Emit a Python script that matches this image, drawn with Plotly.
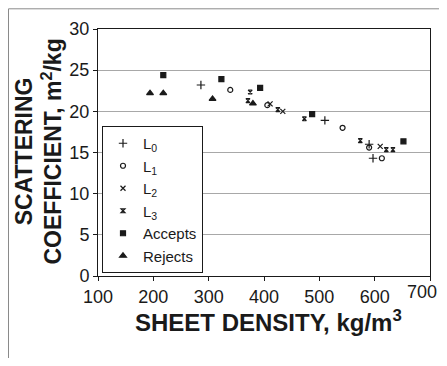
import plotly.graph_objects as go

# Data (sheet density kg/m3, scattering coefficient m2/kg)
l0_x = [286, 510, 590, 597]
l0_y = [23.2, 18.9, 16.0, 14.3]
l1_x = [339, 406, 542, 590, 613]
l1_y = [22.6, 20.75, 18.0, 15.6, 14.3]
l2_x = [411, 434, 610]
l2_y = [20.9, 20.0, 15.75]
l3_x = [375, 371, 425, 473, 574, 621, 633]
l3_y = [22.35, 21.3, 20.2, 19.1, 16.45, 15.35, 15.35]
acc_x = [218, 323, 393, 487, 652]
acc_y = [24.4, 23.9, 22.85, 19.65, 16.35]
rej_x = [194, 218, 307, 380]
rej_y = [22.2, 22.2, 21.5, 20.95]

x_ticks = [100, 200, 300, 400, 500, 600, 700]
y_ticks = [0, 5, 10, 15, 20, 25, 30]

series = [
    ("L<sub>0</sub>", l0_x, l0_y, "cross-thin-open", 6),
    ("L<sub>1</sub>", l1_x, l1_y, "circle-open", 5),
    ("L<sub>2</sub>", l2_x, l2_y, "x-thin-open", 5),
    ("L<sub>3</sub>", l3_x, l3_y, "hourglass-open", 4),
    ("Accepts", acc_x, acc_y, "square", 5),
    ("Rejects", rej_x, rej_y, "triangle-up", 6),
]

FONT = "Liberation Sans, Arial, Helvetica, sans-serif"
ink = "#1a1a1a"

fig = go.Figure()
for name, xs, ys, sym, sz in series:
    fig.add_trace(go.Scatter(
        x=xs, y=ys, mode="markers", name=name,
        marker=dict(symbol=sym, size=sz, color=ink,
                    line=dict(color=ink, width=1.2)),
    ))

# page body keeps its 8px margin: the figure fits inside the window
OFF = 8
W, H = 431, 350
L, R, T, B = 90, 9, 21, 82
pw, ph = W - L - R, H - T - B

def px_x(p):
    return (p - OFF - L) / pw

def px_y(p):
    return (H - B - (p - OFF)) / ph

# last x tick label would be cut at the figure edge: draw it as a note instead
x_ticktext = [str(v) for v in x_ticks[:-1]] + [""]

frame = dict(color="#8a8a8a", width=1)

fig.update_layout(
    width=W, height=H,
    margin=dict(l=L, r=R, t=T, b=B, pad=0),
    paper_bgcolor="white", plot_bgcolor="white",
    font=dict(family=FONT, color=ink, size=17),
    showlegend=True,
    legend=dict(
        x=px_x(102), y=px_y(273), xanchor="left", yanchor="bottom",
        bgcolor="white", bordercolor=ink, borderwidth=1,
        font=dict(size=15, family=FONT, color=ink),
        itemwidth=30, tracegroupgap=0,
    ),
    xaxis=dict(
        range=[100, 700], tickvals=x_ticks, ticktext=x_ticktext, showgrid=False,
        showline=True, linecolor=ink, linewidth=1, mirror=True,
        ticks="outside", ticklen=4, tickcolor=ink,
        tickfont=dict(size=18, family=FONT, color=ink), zeroline=False,
    ),
    yaxis=dict(
        range=[0, 30], tickvals=y_ticks, showgrid=True,
        gridcolor="#a8a8a8", gridwidth=1,
        showline=True, linecolor=ink, linewidth=1, mirror=True,
        ticks="outside", ticklen=4, tickcolor=ink,
        tickfont=dict(size=18, family=FONT, color=ink), zeroline=False,
    ),
    annotations=[
        dict(text=str(x_ticks[-1]), xref="paper", yref="paper",
             x=1.0 + R / pw, y=0, xanchor="right", yanchor="top", yshift=-4,
             showarrow=False, font=dict(size=18, family=FONT, color=ink)),
        dict(text="<b>SHEET DENSITY, kg/m<sup>3</sup></b>", xref="paper", yref="paper",
             x=px_x(268), y=px_y(321), xanchor="center", yanchor="middle",
             showarrow=False, font=dict(size=24, family=FONT, color=ink)),
        dict(text="<b>SCATTERING<br>COEFFICIENT, m<sup>2</sup>/kg</b>", xref="paper", yref="paper",
             x=px_x(38.5), y=px_y(152), xanchor="center", yanchor="middle",
             textangle=-90, showarrow=False,
             font=dict(size=23, family=FONT, color=ink)),
    ],
    shapes=[
        dict(type="line", xref="paper", yref="paper",
             x0=px_x(8.5), x1=px_x(480), y0=px_y(8.8), y1=px_y(8.8),
             line=frame, layer="below"),
        dict(type="line", xref="paper", yref="paper",
             x0=px_x(8.5), x1=px_x(8.5), y0=px_y(8.8), y1=px_y(420),
             line=frame, layer="below"),
    ],
)

fig.write_html("out.html", config={"displayModeBar": False})
